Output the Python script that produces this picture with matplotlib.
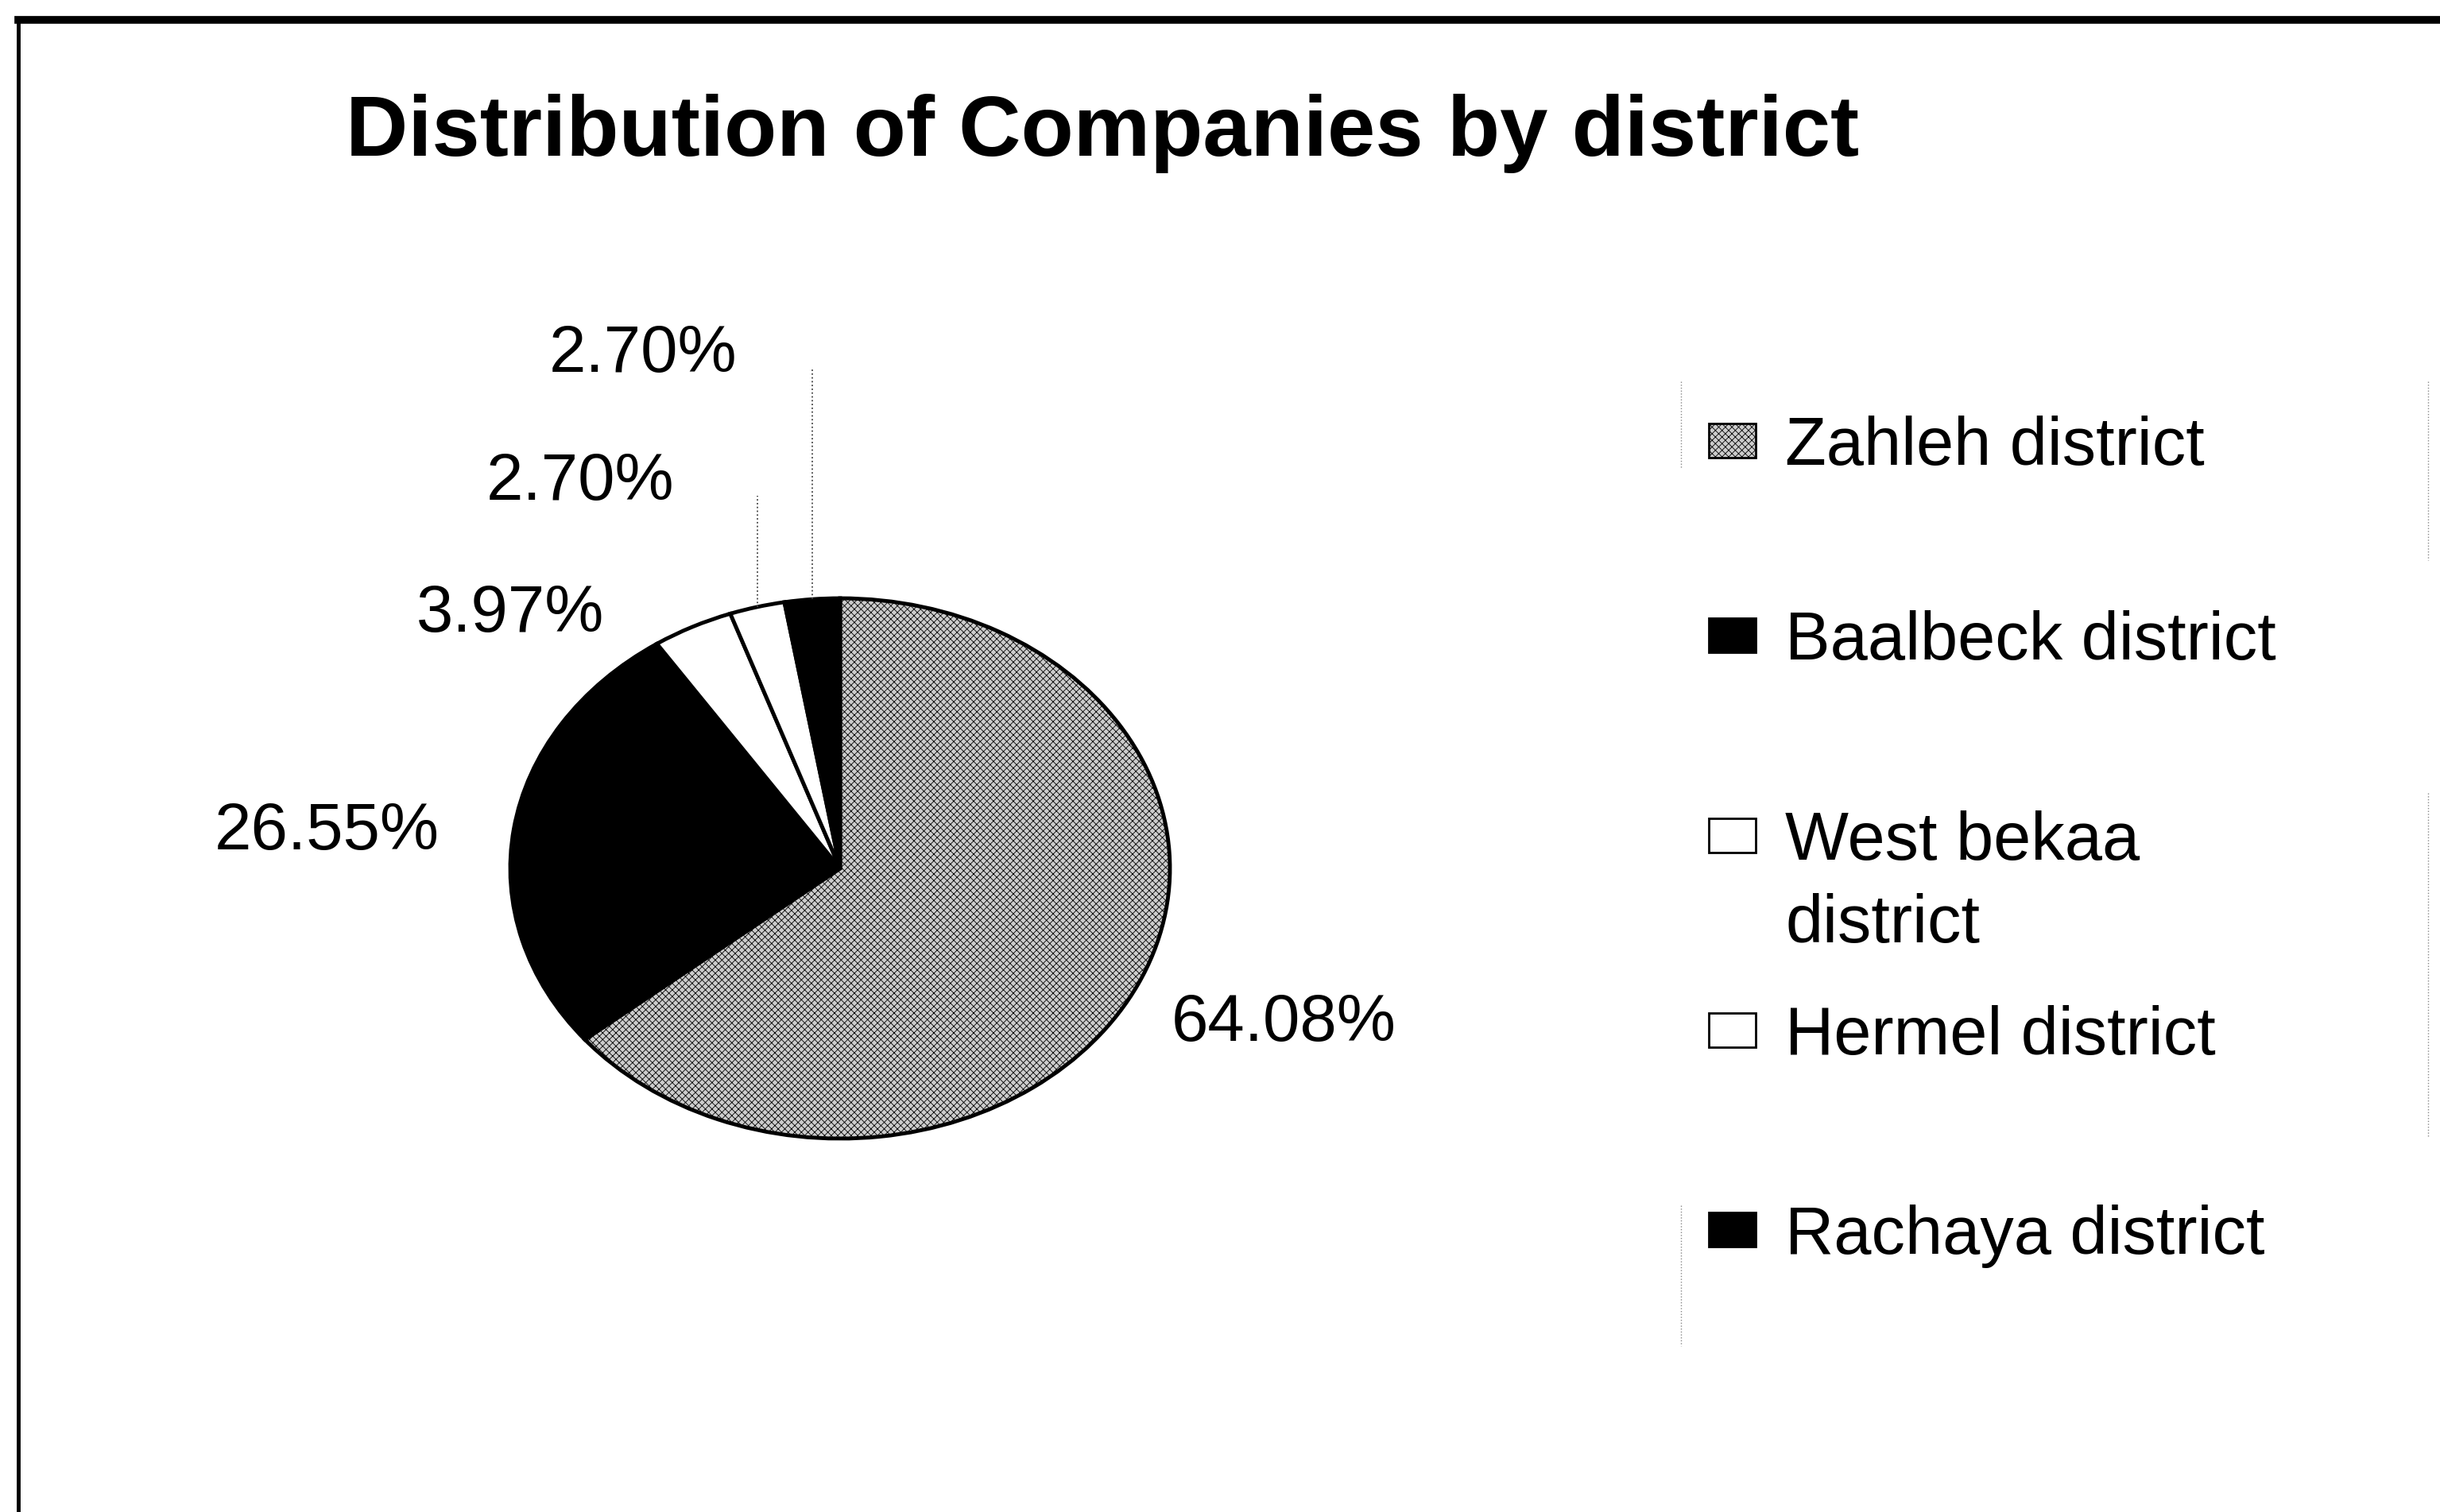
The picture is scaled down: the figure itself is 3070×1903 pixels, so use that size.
import numpy as np
import matplotlib.pyplot as plt
from matplotlib.patches import Rectangle
from matplotlib.lines import Line2D

plt.rcParams['font.family'] = ['Liberation Sans', 'DejaVu Sans']
plt.rcParams['hatch.linewidth'] = 0.6

districts = ['Zahleh district', 'Baalbeck district', 'West bekaa\ndistrict',
             'Hermel district', 'Rachaya district']
shares = [64.08, 26.55, 3.97, 2.70, 2.70]
fills = ['#cccccc', 'black', 'white', 'white', 'black']
hatches = ['xxxx', None, None, None, None]

# where the percentage labels sit (pie units, radius 1)
label_xy = [(1.345, -0.574), (-1.557, 0.135), (-1.0, 0.941),
            (-0.788, 1.429), (-0.598, 1.903)]
leader_for = [3, 4]

W, H = 3070, 1903


def fx(px):
    return px / W


def fy(px):
    return 1 - px / H


def draw_pie(fig):
    ax = fig.add_axes([fx(642), fy(1433), 830 / W, 680 / H])
    wedges, _ = ax.pie(shares, colors=fills, startangle=90, counterclock=False,
                       wedgeprops=dict(edgecolor='black', linewidth=3.5))
    for w, h in zip(wedges, hatches):
        if h:
            w.set_hatch(h)
    ax.set_aspect('auto')
    ax.set_xlim(-1, 1)
    ax.set_ylim(-1, 1)
    ax.axis('off')

    for v, (x, y) in zip(shares, label_xy):
        ax.text(x, y, f'{v:.2f}%', ha='center', va='center', fontsize=60)

    for i in leader_for:
        w = wedges[i]
        mid = np.deg2rad((w.theta1 + w.theta2) / 2)
        x0, y0 = np.cos(mid), np.sin(mid)
        ax.plot([x0, x0], [y0, label_xy[i][1] - 0.05], ls=':', color='#444444',
                lw=1.3, clip_on=False)
    return wedges


def draw_legend(fig, wedges):
    rows = [554, 799, 1051, 1296, 1547]
    line_gap = 104
    for w, name, ry in zip(wedges, districts, rows):
        r = Rectangle((fx(2150), fy(ry + 22)), 59 / W, 43 / H,
                      transform=fig.transFigure, facecolor=w.get_facecolor(),
                      edgecolor='black', lw=2, hatch=w.get_hatch())
        fig.add_artist(r)
        for k, part in enumerate(name.split('\n')):
            fig.text(fx(2246), fy(ry + k * line_gap), part, fontsize=61,
                     ha='left', va='center_baseline')

    # faint dotted remnants of the legend box
    for x, y0, y1 in [(2115, 480, 590), (2115, 1517, 1694),
                      (3055, 480, 705), (3055, 998, 1430)]:
        fig.add_artist(Line2D([fx(x)] * 2, [fy(y0), fy(y1)],
                              transform=fig.transFigure, color='#888888',
                              ls=':', lw=1))


def main():
    fig = plt.figure(figsize=(W / 100, H / 100), dpi=100)
    fig.text(fx(435), fy(168), 'Distribution of Companies by district',
             fontsize=78, fontweight='bold', ha='left', va='center')
    wedges = draw_pie(fig)
    draw_legend(fig, wedges)

    # outer frame (only top and left survive in the scan)
    fig.add_artist(Line2D([fx(23), 1], [fy(25), fy(25)],
                          transform=fig.transFigure, color='black', lw=7))
    fig.add_artist(Line2D([fx(23), fx(23)], [0, fy(25)],
                          transform=fig.transFigure, color='black', lw=3.5))
    fig.savefig('out.png', dpi=100)


if __name__ == "__main__":
    main()
